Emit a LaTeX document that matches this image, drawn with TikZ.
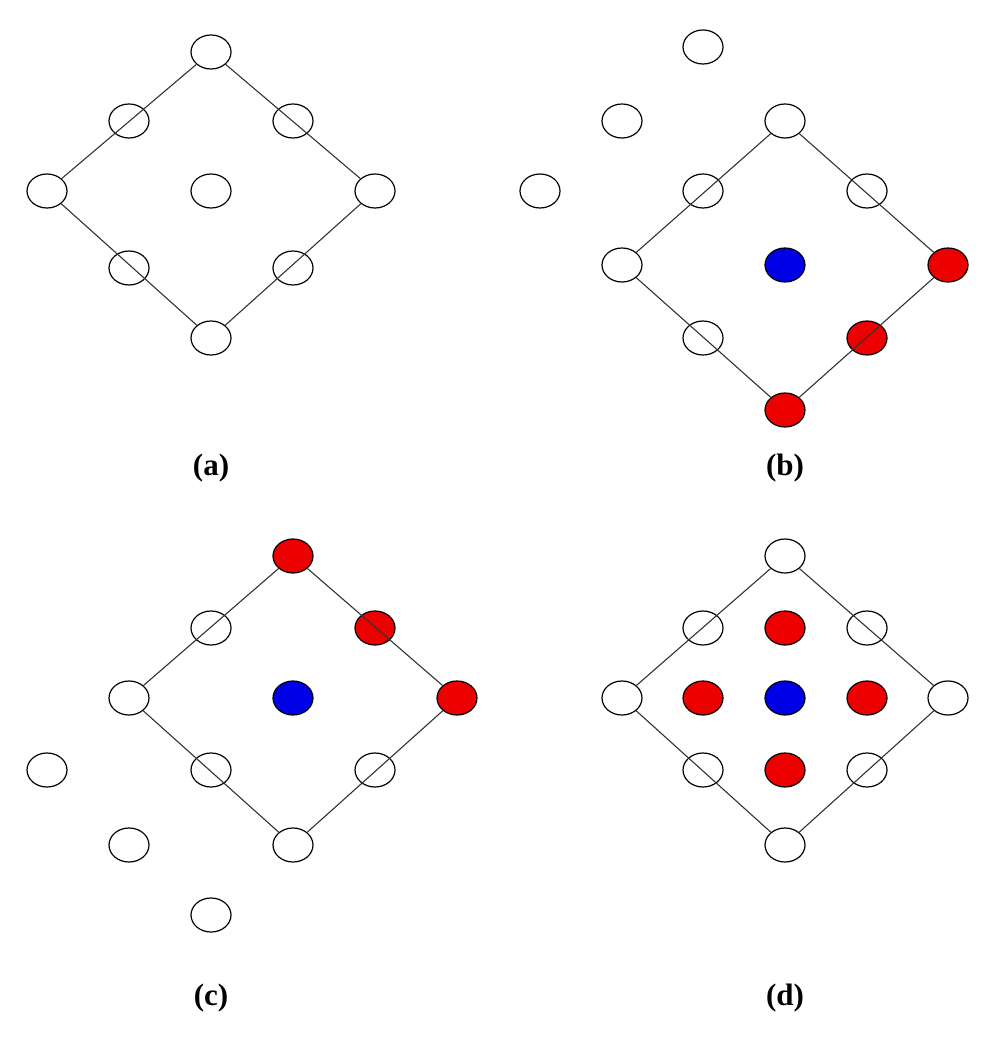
\documentclass[tikz,border=0pt]{standalone}
\usepackage{fontspec}
\setmainfont{Liberation Serif}
\usetikzlibrary{shapes.geometric}
\begin{document}
\begin{tikzpicture}[x=1pt,y=-1pt,
  pt/.style={ellipse,draw=black,line width=1.2pt,fill=white,minimum width=40pt,minimum height=34pt,inner sep=0pt},
  rpt/.style={pt,fill={rgb,255:red,237;green,0;blue,0}},
  bpt/.style={pt,fill={rgb,255:red,0;green,0;blue,230}},
  edge/.style={draw=black!80,line width=1.1pt},
  lab/.style={font=\bfseries\fontsize{31}{36}\selectfont}]
\useasboundingbox (0,0) rectangle (1007,1064);
% (a)
\node[pt] (a1) at (211,52) {};
\node[pt] (a2) at (129,121) {};
\node[pt] (a3) at (293,121) {};
\node[pt] (a4) at (47,191) {};
\node[pt] (a5) at (211,191) {};
\node[pt] (a6) at (375,191) {};
\node[pt] (a7) at (129,268) {};
\node[pt] (a8) at (293,268) {};
\node[pt] (a9) at (211,338) {};
\draw[edge] (a1) -- (a6) -- (a9) -- (a4) -- (a1);
\node[lab] (la) at (211,468) {(a)};
% (b)
\node[pt] (b1) at (703,47) {};
\node[pt] (b2) at (622,121) {};
\node[pt] (b3) at (785,121) {};
\node[pt] (b4) at (540,191) {};
\node[pt] (b5) at (703,191) {};
\node[pt] (b6) at (867,191) {};
\node[pt] (b7) at (622,265) {};
\node[bpt] (b8) at (785,265) {};
\node[rpt] (b9) at (948,265) {};
\node[pt] (b10) at (703,338) {};
\node[rpt] (b11) at (867,338) {};
\node[rpt] (b12) at (785,410) {};
\draw[edge] (b3) -- (b9) -- (b12) -- (b7) -- (b3);
\node[lab] (lb) at (785,468) {(b)};
% (c)
\node[rpt] (c1) at (293,556) {};
\node[pt] (c2) at (211,628) {};
\node[rpt] (c3) at (375,628) {};
\node[pt] (c4) at (129,698) {};
\node[bpt] (c5) at (293,698) {};
\node[rpt] (c6) at (457,698) {};
\node[pt] (c7) at (211,770) {};
\node[pt] (c8) at (375,770) {};
\node[pt] (c9) at (47,770) {};
\node[pt] (c10) at (129,845) {};
\node[pt] (c11) at (293,845) {};
\node[pt] (c12) at (211,915) {};
\draw[edge] (c1) -- (c6) -- (c11) -- (c4) -- (c1);
\node[lab] (lc) at (211,998) {(c)};
% (d)
\node[pt] (d1) at (785,556) {};
\node[pt] (d2) at (703,628) {};
\node[rpt] (d3) at (785,628) {};
\node[pt] (d4) at (867,628) {};
\node[pt] (d5) at (622,698) {};
\node[rpt] (d6) at (703,698) {};
\node[bpt] (d7) at (785,698) {};
\node[rpt] (d8) at (867,698) {};
\node[pt] (d9) at (948,698) {};
\node[pt] (d10) at (703,770) {};
\node[rpt] (d11) at (785,770) {};
\node[pt] (d12) at (867,770) {};
\node[pt] (d13) at (785,845) {};
\draw[edge] (d1) -- (d9) -- (d13) -- (d5) -- (d1);
\node[lab] (ld) at (785,998) {(d)};
\end{tikzpicture}
\end{document}
